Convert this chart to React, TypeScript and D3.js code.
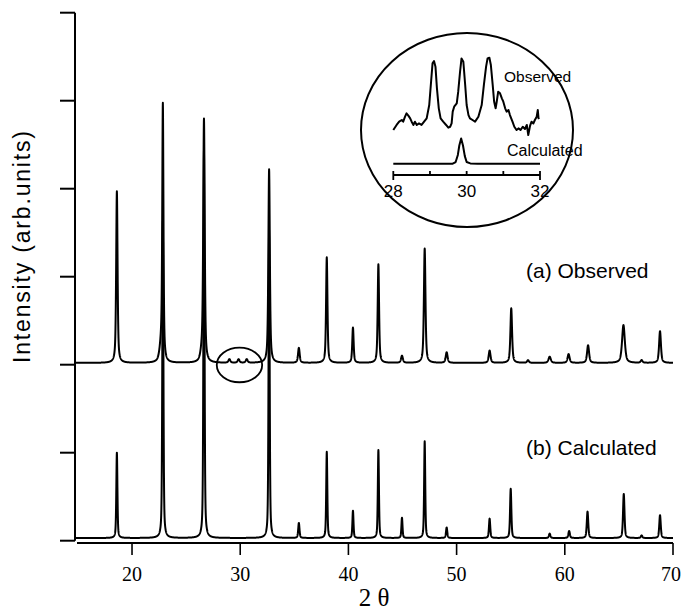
import React from "react";
import * as d3 from "d3";

// ---------- data ----------
const xTickValues = [20, 30, 40, 50, 60, 70];
const yTickValues = [0, 1, 2, 3, 4, 5, 6];

// peaks: [2θ, height (arb. units), FWHM (deg)]
const observedPeaks: [number, number, number][] = [
  [18.6, 1.95, 0.15],
  [22.7, 0.18, 0.35],
  [22.85, 2.85, 0.13],
  [26.45, 0.08, 0.3],
  [26.65, 2.75, 0.16],
  [29.0, 0.04, 0.2],
  [29.85, 0.04, 0.2],
  [30.6, 0.04, 0.2],
  [32.67, 2.2, 0.16],
  [35.42, 0.17, 0.18],
  [38.0, 1.2, 0.15],
  [40.42, 0.4, 0.15],
  [42.77, 1.12, 0.15],
  [44.95, 0.08, 0.2],
  [47.05, 1.3, 0.17],
  [49.08, 0.12, 0.2],
  [53.05, 0.14, 0.2],
  [55.05, 0.62, 0.18],
  [56.6, 0.03, 0.2],
  [58.6, 0.07, 0.25],
  [60.35, 0.1, 0.22],
  [62.15, 0.2, 0.22],
  [65.42, 0.43, 0.3],
  [67.1, 0.03, 0.2],
  [68.8, 0.36, 0.2],
];

const calculatedPeaks: [number, number, number][] = [
  [18.6, 0.97, 0.12],
  [22.85, 3.6, 0.12],
  [26.65, 4.4, 0.12],
  [32.67, 3.5, 0.12],
  [35.42, 0.17, 0.14],
  [38.0, 0.98, 0.12],
  [40.42, 0.31, 0.12],
  [42.77, 1.0, 0.12],
  [44.95, 0.23, 0.12],
  [47.05, 1.1, 0.12],
  [49.08, 0.12, 0.14],
  [53.05, 0.22, 0.14],
  [55.0, 0.56, 0.14],
  [58.6, 0.05, 0.16],
  [60.4, 0.08, 0.16],
  [62.1, 0.3, 0.16],
  [65.45, 0.5, 0.16],
  [67.1, 0.03, 0.16],
  [68.8, 0.26, 0.16],
];

const observedOffset = 2.02;
const calculatedOffset = 0.03;

// inset (28–32°) observed trace: [2θ, intensity]
const insetObserved: [number, number][] = [
  [28.0, 0.381], [28.09, 0.424], [28.16, 0.452], [28.23, 0.466], [28.27, 0.452],
  [28.32, 0.494], [28.36, 0.522], [28.41, 0.503], [28.46, 0.48], [28.5, 0.452],
  [28.55, 0.424], [28.59, 0.452], [28.64, 0.424], [28.7, 0.437], [28.77, 0.424],
  [28.84, 0.452], [28.91, 0.48], [28.98, 0.593], [29.03, 0.79], [29.07, 0.946],
  [29.11, 0.966], [29.15, 0.918], [29.19, 0.734], [29.24, 0.565], [29.29, 0.48],
  [29.36, 0.452], [29.44, 0.424], [29.5, 0.401], [29.55, 0.409], [29.59, 0.437],
  [29.62, 0.537], [29.66, 0.579], [29.73, 0.607], [29.77, 0.706], [29.82, 0.875],
  [29.86, 0.988], [29.91, 0.96], [29.96, 0.763], [30.0, 0.593], [30.05, 0.508],
  [30.09, 0.48], [30.16, 0.466], [30.23, 0.452], [30.32, 0.494], [30.41, 0.593],
  [30.47, 0.763], [30.53, 0.918], [30.57, 0.988], [30.62, 0.994], [30.66, 0.932],
  [30.71, 0.763], [30.75, 0.621], [30.79, 0.565], [30.82, 0.621], [30.86, 0.706],
  [30.91, 0.692], [30.96, 0.65], [31.0, 0.621], [31.05, 0.565], [31.09, 0.537],
  [31.14, 0.551], [31.18, 0.508], [31.25, 0.452], [31.3, 0.409], [31.36, 0.381],
  [31.42, 0.395], [31.47, 0.381], [31.53, 0.409], [31.59, 0.39], [31.64, 0.424],
  [31.68, 0.339], [31.73, 0.418], [31.77, 0.452], [31.82, 0.437], [31.86, 0.466],
  [31.91, 0.494], [31.94, 0.551], [31.96, 0.48], [31.98, 0.486],
];

const insetCalculated: [number, number][] = [
  [28.0, 0.096], [29.62, 0.096], [29.7, 0.11], [29.76, 0.17], [29.8, 0.25],
  [29.85, 0.31], [29.9, 0.25], [29.95, 0.16], [30.0, 0.11], [30.1, 0.098],
  [30.3, 0.096], [32.0, 0.096],
];
const insetTickValues = [28, 29, 30, 31, 32];
const insetLabelValues = [28, 30, 32];

// ---------- layout ----------
const SANS = "'Liberation Sans', Arial, Helvetica, sans-serif";
const SERIF = "'Liberation Serif', 'Times New Roman', serif";

function pv(x: number, c: number, h: number, w: number, eta: number) {
  const t = (x - c) / (w / 2);
  return h * (eta / (1 + t * t) + (1 - eta) * Math.exp(-Math.LN2 * t * t));
}

export default function App() {
  const x = d3.scaleLinear().domain([14.73, 70]).range([75, 673]);
  const y = d3.scaleLinear().domain([0, 6]).range([540.7, 12.7]);

  const grid = d3.range(14.8, 70.0001, 0.01);
  const obsData = grid.map((t) => [
    t,
    observedOffset + d3.sum(observedPeaks, (p) => pv(t, p[0], p[1], p[2], 0.6)),
  ]);
  const calcData = grid.map((t) => [
    t,
    calculatedOffset + d3.sum(calculatedPeaks, (p) => pv(t, p[0], p[1], p[2], 0.5)),
  ]);
  const line = d3
    .line<number[]>()
    .x((d) => x(d[0]))
    .y((d) => y(d[1]));

  const xi = d3.scaleLinear().domain([28, 32]).range([393.3, 540]);
  const yi = d3.scaleLinear().domain([0, 1]).range([175, 57]);
  const insetLine = d3
    .line<[number, number]>()
    .x((d) => xi(d[0]))
    .y((d) => yi(d[1]));

  const axisY = y(0) + 2.3;

  return (
    <svg
      width={682}
      height={612}
      style={{ position: "absolute", left: 0, top: 0, background: "#fff" }}
    >
      <rect x={0} y={0} width={682} height={612} fill="#fff" />
      {/* y axis */}
      <line x1={x(14.73)} x2={x(14.73)} y1={y(6)} y2={y(0)} stroke="#000" strokeWidth={2} />
      {yTickValues.map((v) => (
        <line key={v} x1={60} x2={x(14.73)} y1={y(v)} y2={y(v)} stroke="#000" strokeWidth={2} />
      ))}
      {/* x axis */}
      <line x1={77} x2={x(70)} y1={axisY} y2={axisY} stroke="#000" strokeWidth={1.8} />
      {xTickValues.map((v) => (
        <g key={v}>
          <line x1={x(v)} x2={x(v)} y1={axisY} y2={axisY + 12} stroke="#000" strokeWidth={1.6} />
          <text
            x={v === 70 ? x(v) - 2 : x(v)}
            y={581}
            textAnchor="middle"
            fontFamily={SERIF}
            fontSize={20}
            fill="#000"
          >
            {v}
          </text>
        </g>
      ))}
      <text x={374} y={606} textAnchor="middle" fontFamily={SERIF} fontSize={25} fill="#000">
        2 θ
      </text>
      <text
        transform="translate(30,247) rotate(-90)"
        textAnchor="middle"
        fontFamily={SANS}
        fontSize={23}
        textLength={232}
        lengthAdjust="spacing"
        fill="#000"
      >
        Intensity  (arb.units)
      </text>

      {/* traces */}
      <path d={line(calcData) || ""} fill="none" stroke="#000" strokeWidth={2} strokeLinejoin="round" />
      <path d={line(obsData) || ""} fill="none" stroke="#000" strokeWidth={2} strokeLinejoin="round" />

      {/* small circle on observed pattern */}
      <ellipse cx={x(29.93)} cy={y(observedOffset) + 2} rx={22.7} ry={17.3} fill="none" stroke="#000" strokeWidth={1.8} />

      <text x={526} y={278} fontFamily={SANS} fontSize={21} fill="#000">
        (a) Observed
      </text>
      <text x={526} y={455} fontFamily={SANS} fontSize={21} fill="#000">
        (b) Calculated
      </text>

      {/* inset */}
      <ellipse cx={467} cy={130} rx={106} ry={97} fill="none" stroke="#000" strokeWidth={2} />
      <path d={insetLine(insetObserved) || ""} fill="none" stroke="#000" strokeWidth={2} strokeLinejoin="round" />
      <path d={insetLine(insetCalculated) || ""} fill="none" stroke="#000" strokeWidth={2} strokeLinejoin="round" />
      <line x1={xi(28)} x2={xi(32)} y1={yi(0)} y2={yi(0)} stroke="#000" strokeWidth={2} />
      {insetTickValues.map((v) => (
        <line
          key={v}
          x1={xi(v)}
          x2={xi(v)}
          y1={yi(0) - 4}
          y2={yi(0) + (v === 28 || v === 32 ? 5 : 0)}
          stroke="#000"
          strokeWidth={1.8}
        />
      ))}
      {insetLabelValues.map((v) => (
        <text key={v} x={xi(v)} y={197} textAnchor="middle" fontFamily={SANS} fontSize={17} fill="#000">
          {v}
        </text>
      ))}
      <text x={504} y={82} fontFamily={SANS} fontSize={15.5} fill="#000">
        Observed
      </text>
      <text x={507} y={156} fontFamily={SANS} fontSize={16} fill="#000">
        Calculated
      </text>
    </svg>
  );
}
